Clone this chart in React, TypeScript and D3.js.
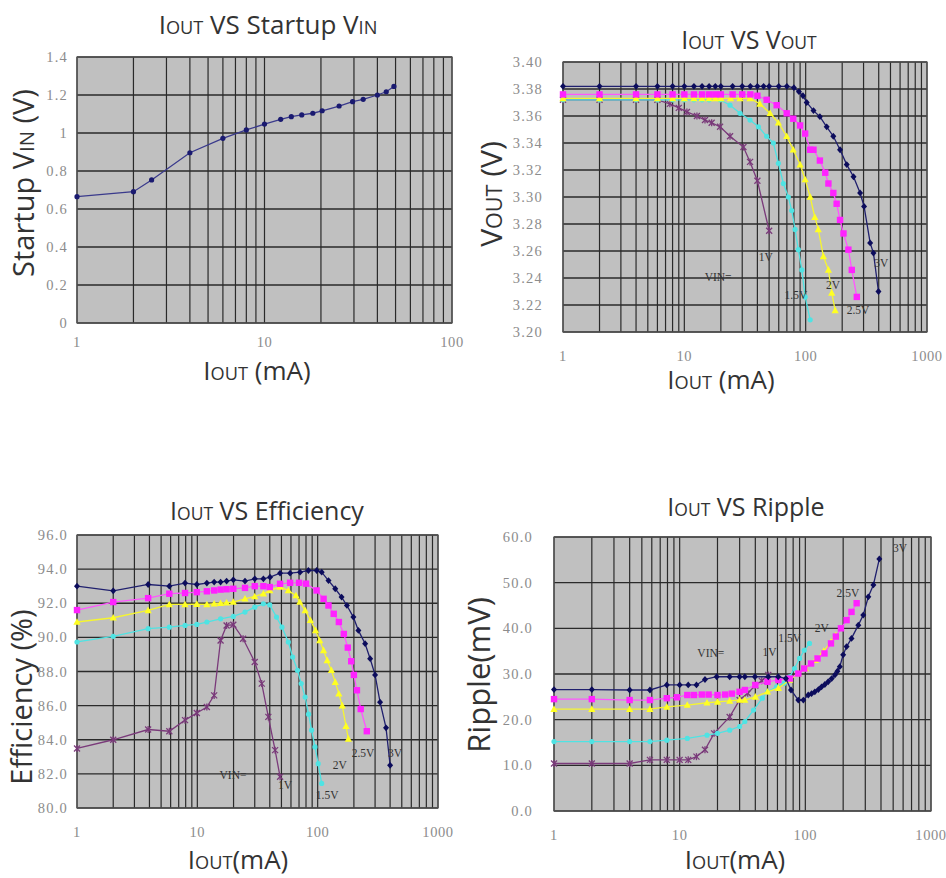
import React from "react";
import * as d3 from "d3";

// ---------- DATA ----------
// Panel 1: Iout vs Startup Vin
const vinI = [1, 2, 2.5, 4, 6, 8, 10, 12.2, 13.9, 15.8, 18.1, 20.3, 25, 29.5, 33.6, 40, 44.6, 49];
const vinV = [0.665, 0.691, 0.753, 0.896, 0.972, 1.016, 1.047, 1.072, 1.086, 1.095, 1.104, 1.117, 1.142, 1.165, 1.177, 1.2, 1.217, 1.245];

// Panel 2: Iout vs Vout
const vo1I = [1, 2, 4, 6, 7.6, 9, 10.5, 12.7, 14.8, 16.8, 19.7, 23.8, 30.7, 34.8, 40, 50];
const vo1V = [3.372, 3.372, 3.372, 3.372, 3.369, 3.366, 3.363, 3.36, 3.357, 3.355, 3.352, 3.345, 3.337, 3.326, 3.312, 3.275];
const vo15I = [1, 2, 4, 6, 8, 10, 12, 14, 16, 19.7, 23.8, 28.8, 34.8, 40.8, 47.7, 54.2, 59.6, 65.5, 72, 76.7, 81.8, 87, 93, 99, 109];
const vo15V = [3.372, 3.372, 3.372, 3.372, 3.372, 3.372, 3.372, 3.372, 3.372, 3.372, 3.368, 3.362, 3.357, 3.352, 3.345, 3.34, 3.325, 3.31, 3.3, 3.29, 3.276, 3.261, 3.246, 3.226, 3.209];
const vo2I = [1, 2, 4, 6, 8, 10, 12, 14, 16, 18, 20, 24, 28.8, 34.8, 42, 50.9, 59.6, 69.8, 79, 90, 99, 109, 119, 127, 140, 154, 164, 175];
const vo2V = [3.373, 3.373, 3.373, 3.373, 3.373, 3.373, 3.373, 3.373, 3.373, 3.373, 3.373, 3.373, 3.373, 3.373, 3.369, 3.362, 3.355, 3.345, 3.335, 3.324, 3.313, 3.3, 3.285, 3.276, 3.256, 3.246, 3.229, 3.216];
const vo25I = [1, 2, 4, 6, 8, 10, 12, 14, 16, 18, 20, 25, 30, 35, 40, 47.7, 57.7, 69.8, 79, 90, 99, 109, 116, 131, 145, 154, 169, 180, 192, 205, 225, 240, 264];
const vo25V = [3.376, 3.376, 3.376, 3.376, 3.376, 3.376, 3.376, 3.376, 3.376, 3.376, 3.376, 3.376, 3.376, 3.376, 3.375, 3.372, 3.368, 3.362, 3.358, 3.353, 3.347, 3.335, 3.335, 3.327, 3.318, 3.31, 3.303, 3.295, 3.283, 3.273, 3.261, 3.246, 3.226];
const vo3I = [1, 2, 4, 6, 8, 10, 12, 14, 16, 18, 20, 25, 30, 35, 40, 45, 50, 60, 70, 80, 88, 95, 102, 116, 131, 149, 169, 192, 218, 248, 281, 303, 340, 362, 398];
const vo3V = [3.382, 3.382, 3.382, 3.382, 3.382, 3.382, 3.382, 3.382, 3.382, 3.382, 3.382, 3.382, 3.382, 3.382, 3.382, 3.382, 3.382, 3.382, 3.382, 3.381, 3.378, 3.375, 3.37, 3.364, 3.3595, 3.352, 3.345, 3.335, 3.324, 3.315, 3.303, 3.293, 3.266, 3.2585, 3.23];

// Panel 3: Iout vs Efficiency
const ef1I = [1, 2, 3.9, 5.85, 7.9, 9.9, 12, 13.8, 15.6, 17.5, 19.9, 24, 30, 34.3, 38.9, 44.3, 48.7];
const ef1V = [83.49, 84.0, 84.6, 84.5, 85.15, 85.57, 85.92, 86.6, 89.82, 90.7, 90.74, 89.92, 88.56, 87.29, 85.34, 83.39, 81.83];
const ef15I = [1, 2, 3.9, 5.85, 7.9, 9.9, 12, 15.6, 19.9, 24.9, 30, 35.4, 40, 45.5, 50.5, 57, 62, 68, 73, 78.7, 84, 89, 95, 101, 108];
const ef15V = [89.73, 90.06, 90.51, 90.6, 90.7, 90.76, 90.9, 91.09, 91.23, 91.48, 91.77, 91.97, 91.9, 91.19, 90.6, 89.73, 88.85, 88.07, 87.29, 86.5, 85.5, 84.56, 83.58, 82.6, 81.44];
const ef2I = [1, 2, 3.9, 5.85, 7.9, 9.9, 12, 13.8, 15.6, 17.5, 19.9, 24.9, 30, 35.4, 40, 48.7, 57, 66, 71, 78.7, 87, 96, 104, 112, 120, 130, 140, 150, 160, 172, 180];
const ef2V = [90.9, 91.15, 91.58, 91.93, 91.93, 91.95, 91.93, 91.97, 92.0, 92.03, 92.07, 92.26, 92.4, 92.56, 92.75, 92.95, 92.75, 92.45, 92.07, 91.58, 91.0, 90.41, 89.82, 89.24, 88.65, 88.07, 87.38, 86.7, 86.0, 84.8, 84.05];
const ef25I = [1, 2, 3.9, 5.85, 7.9, 9.9, 12, 13.8, 15.6, 17.5, 19.9, 24.9, 30, 35.4, 40, 48.7, 59, 70, 80, 98, 112, 123, 136, 150, 165, 178, 190, 200, 212, 228, 256];
const ef25V = [91.6, 92.07, 92.3, 92.56, 92.6, 92.65, 92.7, 92.75, 92.8, 92.82, 92.85, 92.9, 93.0, 93.0, 92.95, 93.14, 93.2, 93.2, 93.15, 92.75, 92.26, 91.87, 91.38, 90.9, 90.2, 89.4, 88.6, 87.8, 86.9, 85.8, 84.5];
const ef3I = [1, 2, 3.9, 5.85, 7.9, 9.9, 12, 13.8, 15.6, 17.5, 19.9, 24.9, 30, 35.4, 40.2, 48.7, 59, 71.4, 83.7, 98.2, 108, 123, 140, 158, 175, 198, 218, 248, 273, 300, 330, 370, 400];
const ef3V = [93.0, 92.73, 93.1, 93.0, 93.18, 93.1, 93.18, 93.24, 93.24, 93.3, 93.37, 93.3, 93.43, 93.43, 93.53, 93.76, 93.76, 93.82, 93.92, 93.92, 93.82, 93.33, 92.85, 92.36, 91.87, 91.19, 90.41, 89.63, 88.75, 87.8, 86.2, 84.7, 82.5];

// Panel 4: Iout vs Ripple
const rp1I = [1, 2, 4, 5.8, 7.9, 10, 11.7, 13.6, 15.9, 18.8, 25, 30, 34.8, 40, 45, 50.7];
const rp1V = [10.4, 10.4, 10.4, 11.2, 11.2, 11.2, 11.2, 11.9, 13.4, 17.0, 20.6, 24.3, 25.8, 27.5, 28.5, 29.8];
const rp15I = [1, 2, 4, 5.8, 7.9, 11.5, 16.5, 20, 25, 30, 33, 38.7, 45.5, 50, 59, 68, 75, 82, 90, 98, 108];
const rp15V = [15.2, 15.2, 15.2, 15.2, 15.5, 15.9, 16.6, 17.0, 17.7, 18.5, 19.6, 22.1, 24.7, 26.1, 27.2, 28.0, 29.4, 31.2, 33.4, 35.2, 36.7];
const rp2I = [1, 2, 4, 5.8, 7.9, 11.5, 16.5, 20, 25, 30, 33, 40, 50, 61, 75, 88, 100, 120, 140, 160, 175];
const rp2V = [22.3, 22.3, 22.3, 22.3, 22.8, 23.2, 23.7, 23.9, 24.1, 24.3, 24.3, 25.0, 26.1, 26.9, 28.7, 30.1, 31.2, 33.0, 35.0, 37.0, 38.5];
const rp25I = [1, 2, 4, 5.8, 7.9, 9.5, 11.5, 13, 15, 17, 20, 23, 26, 30, 33, 40, 50, 61, 75, 88, 98, 111, 125, 142, 160, 175, 192, 213, 233, 256];
const rp25V = [24.5, 24.5, 24.3, 24.3, 24.7, 24.9, 25.4, 25.4, 25.5, 25.5, 25.4, 25.5, 25.7, 26.1, 26.5, 27.6, 28.3, 28.7, 29.0, 30.1, 31.2, 32.3, 33.4, 34.5, 36.7, 38.2, 40.0, 41.8, 43.6, 45.5];
const rp3I = [1, 2, 4, 5.8, 7.9, 10, 11.7, 13.6, 15.9, 19.7, 25, 30, 33, 39.7, 50.7, 60.8, 70, 76.9, 87.9, 96.4, 105.5, 112, 119, 127, 134.6, 143, 152, 162, 172, 180, 188, 200, 213, 233, 264, 289, 317, 348, 388];
const rp3V = [26.6, 26.6, 26.5, 26.5, 27.6, 27.6, 27.6, 27.6, 28.8, 29.4, 29.4, 29.4, 29.4, 29.4, 29.4, 29.4, 29.0, 26.5, 24.3, 24.3, 25.4, 25.7, 26.1, 26.6, 27.2, 27.7, 28.3, 29.0, 29.8, 30.6, 31.6, 34.2, 36.0, 37.8, 40.7, 42.9, 46.9, 49.5, 55.2];

// Tick values
const vinTicks = [0, 0.2, 0.4, 0.6, 0.8, 1.0, 1.2, 1.4];
const voutTicks = [3.2, 3.22, 3.24, 3.26, 3.28, 3.3, 3.32, 3.34, 3.36, 3.38, 3.4];
const effTicks = [80, 82, 84, 86, 88, 90, 92, 94, 96];
const ripTicks = [0, 10, 20, 30, 40, 50, 60];
const decades2 = [1, 10, 100];
const decades3 = [1, 10, 100, 1000];

// Series labels (text, Iout, value)
const voutLabelText = ["VIN=", "1V", "1.5V", "2V", "2.5V", "3V"];
const voutLabelI = [19, 47, 83, 168, 270, 419];
const voutLabelV = [3.2407, 3.2556, 3.2274, 3.2348, 3.2163, 3.2511];
const effLabelText = ["VIN=", "1V", "1.5V", "2V", "2.5V", "3V"];
const effLabelI = [19.8, 53.6, 120, 153, 238, 440];
const effLabelV = [81.93, 81.35, 80.76, 82.52, 83.22, 83.22];
const ripLabelText = ["VIN=", "1V", "1.5V", "2V", "2.5V", "3V"];
const ripLabelI = [17.7, 52, 75, 135, 218, 566];
const ripLabelV = [34.6, 34.8, 37.9, 40.1, 47.7, 57.6];

// ---------- STYLES ----------
const C1 = { line: "#7a3a7a", mark: "#7a3a7a", marker: "x" };
const C15 = { line: "#4fe3e3", mark: "#4fe3e3", marker: "dot" };
const C2 = { line: "#f5f530", mark: "#ffff22", marker: "tri" };
const C25 = { line: "#ff55ff", mark: "#ff22ff", marker: "sq" };
const C3 = { line: "#20206e", mark: "#0c0c5c", marker: "dia" };

const SANS = "'Open Sans', 'Noto Sans', sans-serif";
const SERIF = "'Liberation Serif', 'DejaVu Serif', serif";

type S = { xs: number[]; ys: number[]; st: { line: string; mark: string; marker: string } };

function Marker({ t, x, y, c }: { t: string; x: number; y: number; c: string }) {
  if (t === "sq") return <rect x={x - 3.2} y={y - 3.2} width={6.4} height={6.4} fill={c} />;
  if (t === "tri") return <path d={`M${x},${y - 3.8}L${x + 3.6},${y + 2.8}L${x - 3.6},${y + 2.8}Z`} fill={c} />;
  if (t === "dot") return <circle cx={x} cy={y} r={2.6} fill={c} />;
  if (t === "dia") return <path d={`M${x},${y - 3.4}L${x + 3},${y}L${x},${y + 3.4}L${x - 3},${y}Z`} fill={c} />;
  if (t === "x")
    return (
      <g stroke={c} strokeWidth={1.3}>
        <line x1={x - 3} y1={y - 3} x2={x + 3} y2={y + 3} />
        <line x1={x - 3} y1={y + 3} x2={x + 3} y2={y - 3} />
        <line x1={x} y1={y - 3.5} x2={x} y2={y + 3.5} />
      </g>
    );
  return <circle cx={x} cy={y} r={2.8} fill={c} />;
}

function Iout({ size }: { size: number }) {
  return (
    <>
      <tspan>I</tspan>
      <tspan fontSize={size * 0.7}>OUT</tspan>
    </>
  );
}

type PanelProps = {
  L: number; R: number; T: number; B: number;
  xMax: number; yDom: [number, number]; yTicks: number[]; fmt: (v: number) => string;
  decs: number[]; series: S[];
  labels?: { t: string[]; x: number[]; y: number[] };
  yTickEnd: number; xTickY: number;
};

function Panel(p: PanelProps) {
  const x = d3.scaleLog().domain([1, p.xMax]).range([p.L, p.R]);
  const y = d3.scaleLinear().domain(p.yDom).range([p.B, p.T]);
  const vticks = x.ticks();
  const line = d3.line<[number, number]>().x((d) => x(d[0])).y((d) => y(d[1]));
  return (
    <g>
      <rect x={p.L} y={p.T} width={p.R - p.L} height={p.B - p.T} fill="#c0c0c0" />
      {vticks.map((v, i) => (
        <line key={"v" + i} x1={x(v)} x2={x(v)} y1={p.T} y2={p.B} stroke="#2a2a2a" strokeWidth={1.2} />
      ))}
      {p.yTicks.map((v, i) => (
        <line key={"h" + i} x1={p.L} x2={p.R} y1={y(v)} y2={y(v)} stroke="#2a2a2a" strokeWidth={1.4} />
      ))}
      <rect x={p.L} y={p.T} width={p.R - p.L} height={p.B - p.T} fill="none" stroke="#555" strokeWidth={1.2} />
      {p.yTicks.map((v, i) => (
        <text key={"yt" + i} x={p.yTickEnd} y={y(v) + 5} textAnchor="end" fontFamily={SERIF} fontSize={14.5} letterSpacing={1.2} fill="#8c8c8c">
          {p.fmt(v)}
        </text>
      ))}
      {p.decs.map((v, i) => (
        <text key={"xt" + i} x={x(v)} y={p.xTickY} textAnchor="middle" fontFamily={SERIF} fontSize={14.5} letterSpacing={0.6} fill="#8c8c8c">
          {v}
        </text>
      ))}
      {p.series.map((s, si) => {
        const pts = s.xs.map((v, i) => [v, s.ys[i]] as [number, number]);
        return (
          <g key={"s" + si}>
            <path d={line(pts) || ""} fill="none" stroke={s.st.line} strokeWidth={1.3} />
            {pts.map((d, i) => (
              <Marker key={i} t={s.st.marker} x={x(d[0])} y={y(d[1])} c={s.st.mark} />
            ))}
          </g>
        );
      })}
      {p.labels &&
        p.labels.t.map((t, i) => (
          <text key={"l" + i} x={x(p.labels!.x[i])} y={y(p.labels!.y[i]) + 4} textAnchor="middle" fontFamily={SERIF} fontSize={11.5} fill="#333">
            {t}
          </text>
        ))}
    </g>
  );
}

export default function App() {
  const aS = 26;
  return (
    <div style={{ position: "absolute", left: 0, top: 0 }}>
      <svg width={946} height={878} style={{ display: "block", background: "#fff" }}>
        {/* Panel 1 */}
        <Panel L={77} R={452} T={57} B={323} xMax={100} yDom={[0, 1.4]} yTicks={vinTicks}
          fmt={(v) => (v === 0 ? "0" : Math.abs(v - 1) < 1e-9 ? "1" : v.toFixed(1))}
          decs={decades2} yTickEnd={68} xTickY={347}
          series={[{ xs: vinI, ys: vinV, st: { line: "#3a3a8c", mark: "#1a1a70", marker: "dot" } }]} />
        {/* Panel 2 */}
        <Panel L={563} R={927} T={62} B={332} xMax={1000} yDom={[3.2, 3.4]} yTicks={voutTicks}
          fmt={(v) => v.toFixed(2)} decs={decades3} yTickEnd={543} xTickY={361}
          series={[
            { xs: vo1I, ys: vo1V, st: C1 },
            { xs: vo15I, ys: vo15V, st: C15 },
            { xs: vo2I, ys: vo2V, st: C2 },
            { xs: vo25I, ys: vo25V, st: C25 },
            { xs: vo3I, ys: vo3V, st: C3 },
          ]}
          labels={{ t: voutLabelText, x: voutLabelI, y: voutLabelV }} />
        {/* Panel 3 */}
        <Panel L={77} R={438} T={535} B={808} xMax={1000} yDom={[80, 96]} yTicks={effTicks}
          fmt={(v) => v.toFixed(1)} decs={decades3} yTickEnd={68} xTickY={837}
          series={[
            { xs: ef1I, ys: ef1V, st: C1 },
            { xs: ef15I, ys: ef15V, st: C15 },
            { xs: ef2I, ys: ef2V, st: C2 },
            { xs: ef25I, ys: ef25V, st: C25 },
            { xs: ef3I, ys: ef3V, st: C3 },
          ]}
          labels={{ t: effLabelText, x: effLabelI, y: effLabelV }} />
        {/* Panel 4 */}
        <Panel L={554} R={931} T={537} B={811} xMax={1000} yDom={[0, 60]} yTicks={ripTicks}
          fmt={(v) => v.toFixed(1)} decs={decades3} yTickEnd={533} xTickY={840}
          series={[
            { xs: rp1I, ys: rp1V, st: C1 },
            { xs: rp15I, ys: rp15V, st: C15 },
            { xs: rp2I, ys: rp2V, st: C2 },
            { xs: rp25I, ys: rp25V, st: C25 },
            { xs: rp3I, ys: rp3V, st: C3 },
          ]}
          labels={{ t: ripLabelText, x: ripLabelI, y: ripLabelV }} />

        {/* Titles */}
        <g fontFamily={SANS} fill="#333" textAnchor="middle">
          <text x={268} y={34} fontSize={26}><Iout size={26} /><tspan> VS Startup V</tspan><tspan fontSize={26 * 0.7}>IN</tspan></text>
          <text x={749} y={49} fontSize={25}><Iout size={25} /><tspan> VS V</tspan><tspan fontSize={25 * 0.7}>OUT</tspan></text>
          <text x={267} y={520} fontSize={25}><Iout size={25} /><tspan> VS Efficiency</tspan></text>
          <text x={746} y={516} fontSize={25}><Iout size={25} /><tspan> VS Ripple</tspan></text>
        </g>
        {/* X axis titles */}
        <g fontFamily={SANS} fill="#333" textAnchor="middle">
          <text x={257} y={380} fontSize={aS}><Iout size={aS} /><tspan> (mA)</tspan></text>
          <text x={721} y={389} fontSize={aS}><Iout size={aS} /><tspan> (mA)</tspan></text>
          <text x={238} y={869} fontSize={aS}><Iout size={aS} /><tspan>(mA)</tspan></text>
          <text x={735} y={869} fontSize={aS}><Iout size={aS} /><tspan>(mA)</tspan></text>
        </g>
        {/* Y axis titles */}
        <g fontFamily={SANS} fill="#333" textAnchor="middle">
          <text transform="translate(34,183) rotate(-90)" fontSize={29}>
            <tspan>Startup V</tspan><tspan fontSize={29 * 0.7}>IN</tspan><tspan> (V)</tspan>
          </text>
          <text transform="translate(502,194) rotate(-90)" fontSize={30}>
            <tspan>V</tspan><tspan fontSize={30 * 0.72}>OUT</tspan><tspan> (V)</tspan>
          </text>
          <text transform="translate(32,697) rotate(-90)" fontSize={29}>Efficiency (%)</text>
          <text transform="translate(490,675) rotate(-90)" fontSize={31}>Ripple(mV)</text>
        </g>
      </svg>
    </div>
  );
}
